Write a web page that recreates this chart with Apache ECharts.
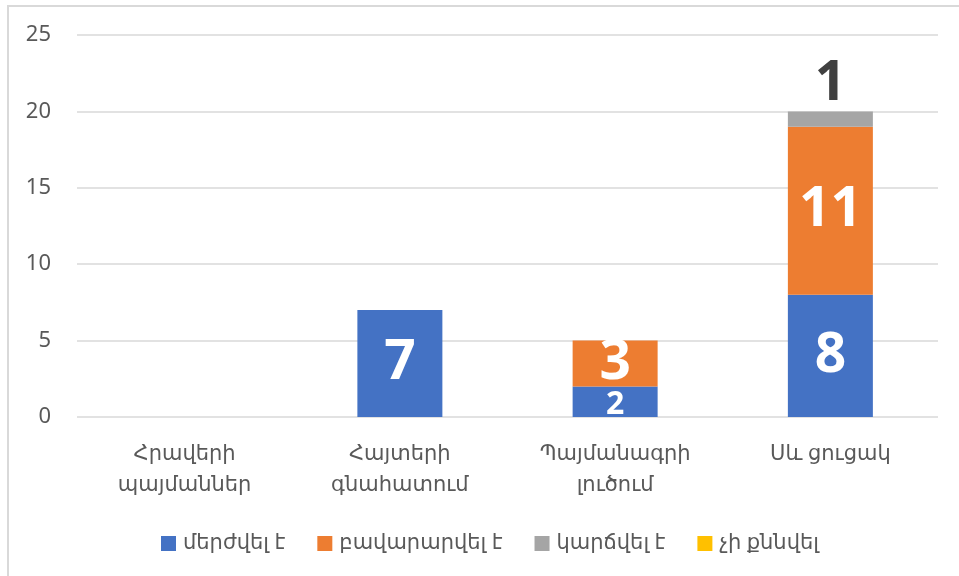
<!DOCTYPE html>
<html>
<head>
<meta charset="utf-8">
<script src="https://cdn.jsdelivr.net/npm/echarts@6/dist/echarts.min.js"></script>
<style>
html,body{margin:0;padding:0;background:#fff;}
#frame{position:absolute;left:7px;top:5px;width:1000px;height:700px;border-left:2px solid #d9d9d9;border-top:2px solid #d9d9d9;box-sizing:border-box;}
#chart{position:absolute;left:0;top:0;width:959px;height:576px;}
</style>
</head>
<body>
<div id="frame"></div>
<div id="chart"></div>
<script>
const categories = ["Հրավերի\nպայմաններ", "Հայտերի\nգնահատում", "Պայմանագրի\nլուծում", "Սև ցուցակ"];
const seriesNames = ["մերժվել է", "բավարարվել է", "կարճվել է", "չի քննվել"];
const rejected = [0, 7, 2, 8];
const satisfied = [0, 0, 3, 11];
const dismissed = [0, 0, 0, 1];
const notReviewed = [0, 0, 0, 0];
const yTicks = [0, 5, 10, 15, 20, 25];

const colors = ['#4472C4', '#ED7D31', '#A5A5A5', '#FFC000'];
const FONT = "'Segoe UI', 'Noto Sans', 'DejaVu Sans', sans-serif";
const LABEL_FONT = "'Segoe UI', 'Open Sans', 'Liberation Sans', sans-serif";

function mkData(arr, smallIdx) {
  return arr.map((v, i) => {
    const o = { value: v };
    if (smallIdx !== undefined && i === smallIdx) {
      o.label = { fontSize: 32, offset: [0, 3] };
    }
    return o;
  });
}

const chart = echarts.init(document.getElementById('chart'), null, { renderer: 'canvas' });
const baseLabel = {
  show: true,
  position: 'inside',
  color: '#fff',
  fontSize: 55,
  fontWeight: 'bold',
  fontFamily: LABEL_FONT,
  formatter: p => (p.value ? String(p.value) : '')
};
chart.setOption({
  animation: false,
  color: colors,
  grid: { left: 77, right: 21, top: 35, bottom: 159, containLabel: false },
  legend: {
    bottom: 17,
    left: 156,
    itemWidth: 15,
    itemHeight: 15,
    itemGap: 32,
    icon: 'rect',
    textStyle: { color: '#595959', fontSize: 21, fontFamily: FONT, padding: [0, 0, 0, 2] },
    data: seriesNames
  },
  xAxis: {
    type: 'category',
    data: categories,
    axisLine: { show: false },
    axisTick: { show: false },
    axisLabel: {
      interval: 0,
      color: '#595959',
      fontSize: 21,
      lineHeight: 31,
      margin: 22,
      fontFamily: FONT
    }
  },
  yAxis: {
    type: 'value',
    min: yTicks[0],
    max: yTicks[yTicks.length - 1],
    interval: 5,
    axisLine: { show: false },
    axisTick: { show: false },
    splitLine: { lineStyle: { color: '#d9d9d9', width: 1.5 } },
    axisLabel: { color: '#595959', fontSize: 22, margin: 26, fontFamily: FONT }
  },
  series: [
    { name: seriesNames[0], type: 'bar', stack: 's', barWidth: 85, data: mkData(rejected, 2), label: baseLabel },
    { name: seriesNames[1], type: 'bar', stack: 's', barWidth: 85, data: mkData(satisfied), label: baseLabel },
    { name: seriesNames[2], type: 'bar', stack: 's', barWidth: 85, data: mkData(dismissed),
      label: Object.assign({}, baseLabel, { position: 'top', color: '#404040', distance: 0 }) },
    { name: seriesNames[3], type: 'bar', stack: 's', barWidth: 85, data: mkData(notReviewed), label: baseLabel }
  ]
});
</script>
</body>
</html>
